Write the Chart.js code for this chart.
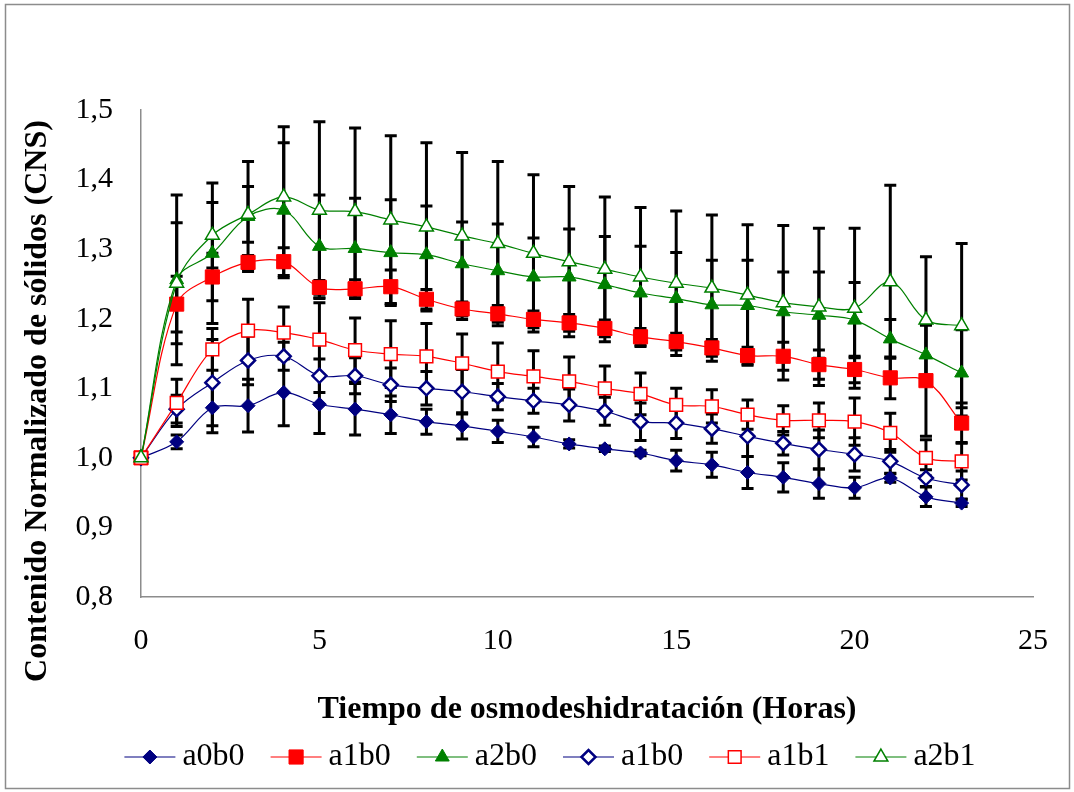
<!DOCTYPE html>
<html>
<head>
<meta charset="utf-8">
<script src="https://cdn.jsdelivr.net/npm/chart.js@4"></script>
<style>
  html, body { margin: 0; padding: 0; background: #fff; }
</style>
</head>
<body>
<canvas id="cnsChart" width="1074" height="792"></canvas>
<script>
// Horas de osmodeshidratación
const hours = [0, 1, 2, 3, 4, 5, 6, 7, 8, 9, 10, 11, 12, 13, 14, 15, 16, 17, 18, 19, 20, 21, 22, 23];

// Contenido normalizado de sólidos (media) y error por tratamiento
const a0b0 = [1.000, 1.023, 1.072, 1.075, 1.094, 1.077, 1.070, 1.062, 1.052, 1.046, 1.038, 1.030, 1.020, 1.013, 1.007, 0.996, 0.990, 0.979, 0.972, 0.963, 0.957, 0.971, 0.944, 0.935];
const a0b0Err = [0, 0.010, 0.036, 0.038, 0.048, 0.042, 0.037, 0.027, 0.018, 0.019, 0.016, 0.014, 0.006, 0.004, 0.004, 0.015, 0.018, 0.023, 0.021, 0.021, 0.015, 0.006, 0.014, 0.005];

const a1b0 = [1.000, 1.221, 1.260, 1.281, 1.282, 1.245, 1.243, 1.246, 1.228, 1.214, 1.207, 1.199, 1.194, 1.186, 1.174, 1.167, 1.158, 1.147, 1.146, 1.134, 1.127, 1.115, 1.111, 1.050];
const a1b0Err = [0, 0.040, 0.034, 0.010, 0.020, 0.010, 0.013, 0.024, 0.014, 0.010, 0.012, 0.012, 0.012, 0.012, 0.012, 0.012, 0.012, 0.012, 0.020, 0.021, 0.019, 0.030, 0.080, 0.029];

const a2b0 = [1.000, 1.256, 1.294, 1.347, 1.356, 1.304, 1.301, 1.295, 1.292, 1.279, 1.269, 1.260, 1.260, 1.249, 1.237, 1.229, 1.220, 1.219, 1.210, 1.205, 1.198, 1.171, 1.148, 1.122];
const a2b0Err = [0, 0.122, 0.101, 0.079, 0.097, 0.074, 0.072, 0.076, 0.070, 0.060, 0.067, 0.056, 0.069, 0.069, 0.067, 0.066, 0.064, 0.065, 0.057, 0.062, 0.054, 0.028, 0.043, 0.062];

const a0b1 = [1.000, 1.070, 1.108, 1.140, 1.146, 1.118, 1.118, 1.105, 1.100, 1.095, 1.088, 1.082, 1.076, 1.067, 1.052, 1.050, 1.042, 1.031, 1.021, 1.012, 1.005, 0.995, 0.971, 0.961];
const a0b1Err = [0, 0.020, 0.062, 0.035, 0.020, 0.024, 0.026, 0.024, 0.024, 0.032, 0.019, 0.018, 0.023, 0.020, 0.027, 0.022, 0.021, 0.029, 0.017, 0.028, 0.024, 0.017, 0.012, 0.020];

const a1b1 = [1.000, 1.079, 1.156, 1.183, 1.180, 1.170, 1.155, 1.149, 1.146, 1.136, 1.124, 1.117, 1.110, 1.100, 1.092, 1.076, 1.074, 1.062, 1.054, 1.054, 1.052, 1.036, 1.000, 0.995];
const a1b1Err = [0, 0.034, 0.030, 0.045, 0.037, 0.053, 0.046, 0.048, 0.047, 0.042, 0.041, 0.037, 0.035, 0.032, 0.030, 0.024, 0.024, 0.021, 0.021, 0.025, 0.034, 0.028, 0.026, 0.027];

const a2b1 = [1.000, 1.251, 1.320, 1.350, 1.375, 1.356, 1.354, 1.342, 1.332, 1.319, 1.308, 1.294, 1.282, 1.271, 1.260, 1.251, 1.244, 1.234, 1.223, 1.217, 1.215, 1.253, 1.198, 1.190];
const a2b1Err = [0, 0.087, 0.047, 0.040, 0.101, 0.127, 0.120, 0.121, 0.121, 0.120, 0.118, 0.113, 0.108, 0.104, 0.100, 0.104, 0.105, 0.101, 0.111, 0.113, 0.115, 0.139, 0.091, 0.118];

// el gráfico original repite la etiqueta "a1b0" en la cuarta serie
const seriesLabels = ['a0b0', 'a1b0', 'a2b0', 'a1b0', 'a1b1', 'a2b1'];

const xTitle = 'Tiempo de osmodeshidratación (Horas)';
const yTitle = 'Contenido Normalizado de sólidos (CNS)';

const FONT = '"Liberation Serif", "Times New Roman", serif';

function toPoints(values) {
    return hours.map((h, i) => ({ x: h, y: values[i] }));
}

function makeSeries(idx, values, errors, color, style, radius, filled, bw) {
    return {
        label: seriesLabels[idx],
        data: toPoints(values),
        errors: errors,
        borderColor: color,
        borderWidth: 1.2,
        pointStyle: style,
        pointRadius: radius,
        pointHoverRadius: radius,
        pointBackgroundColor: filled ? color : '#ffffff',
        pointBorderColor: color,
        pointBorderWidth: bw,
        tension: 0.35,
        fill: false,
        clip: false,
        order: 5 - idx
    };
}

const datasets = [
    makeSeries(0, a0b0, a0b0Err, '#000080', 'rectRot', 7, true, 1),
    makeSeries(1, a1b0, a1b0Err, '#ff0000', 'rect', 10, true, 1),
    makeSeries(2, a2b0, a2b0Err, '#008000', 'triangle', 8, true, 1),
    makeSeries(3, a0b1, a0b1Err, '#000080', 'rectRot', 7, false, 2.5),
    makeSeries(4, a1b1, a1b1Err, '#ff0000', 'rect', 9, false, 1.5),
    makeSeries(5, a2b1, a2b1Err, '#008000', 'triangle', 8, false, 1.5)
];

// fondo blanco y marco gris del gráfico
const frame = {
    id: 'frame',
    beforeDraw(chart) {
        const ctx = chart.ctx;
        ctx.save();
        ctx.fillStyle = '#ffffff';
        ctx.fillRect(0, 0, chart.width, chart.height);
        ctx.strokeStyle = '#8c8c8c';
        ctx.lineWidth = 1.5;
        ctx.strokeRect(5.5, 4.5, 1064, 784);
        ctx.restore();
    }
};

// barras de error (desviación) en negro
const errorBars = {
    id: 'errorBars',
    beforeDatasetsDraw(chart) {
        const ctx = chart.ctx;
        const yScale = chart.scales.y;
        ctx.save();
        ctx.strokeStyle = '#000000';
        ctx.lineWidth = 3;
        chart.data.datasets.forEach((ds, di) => {
            const meta = chart.getDatasetMeta(di);
            meta.data.forEach((pt, i) => {
                const e = ds.errors[i];
                if (!e) return;
                const v = ds.data[i].y;
                const top = yScale.getPixelForValue(v + e);
                const bot = yScale.getPixelForValue(v - e);
                ctx.beginPath();
                ctx.moveTo(pt.x, top);
                ctx.lineTo(pt.x, bot);
                ctx.moveTo(pt.x - 6, top);
                ctx.lineTo(pt.x + 6, top);
                ctx.moveTo(pt.x - 6, bot);
                ctx.lineTo(pt.x + 6, bot);
                ctx.stroke();
            });
        });
        ctx.restore();
    }
};

// título del eje Y, centrado como en Excel
const yAxisTitle = {
    id: 'yAxisTitle',
    afterDraw(chart) {
        const ctx = chart.ctx;
        ctx.save();
        ctx.translate(38, 401);
        ctx.rotate(-Math.PI / 2);
        ctx.font = 'bold 32px ' + FONT;
        ctx.fillStyle = '#000000';
        ctx.textAlign = 'center';
        ctx.textBaseline = 'middle';
        ctx.fillText(yTitle, 0, 0);
        ctx.restore();
    }
};

// leyenda en una fila: línea + marcador + texto
const legendRow = {
    id: 'legendRow',
    afterDraw(chart) {
        const ctx = chart.ctx;
        const lineLen = 51, gap = 7, spacing = 26, cy = 757;
        ctx.save();
        ctx.font = '32px ' + FONT;
        const widths = chart.data.datasets.map(ds => lineLen + gap + ctx.measureText(ds.label).width);
        const total = widths.reduce((a, b) => a + b, 0) + spacing * (widths.length - 1);
        let x = 550 - total / 2;
        chart.data.datasets.forEach((ds, i) => {
            ctx.strokeStyle = ds.borderColor;
            ctx.lineWidth = 1.2;
            ctx.beginPath();
            ctx.moveTo(x, cy);
            ctx.lineTo(x + lineLen, cy);
            ctx.stroke();
            ctx.fillStyle = ds.pointBackgroundColor;
            ctx.strokeStyle = ds.pointBorderColor;
            ctx.lineWidth = ds.pointBorderWidth;
            Chart.helpers.drawPoint(ctx, {
                pointStyle: ds.pointStyle,
                radius: ds.pointRadius,
                borderWidth: ds.pointBorderWidth,
                rotation: 0
            }, x + lineLen / 2, cy);
            ctx.fillStyle = '#000000';
            ctx.textAlign = 'left';
            ctx.textBaseline = 'middle';
            ctx.fillText(ds.label, x + lineLen + gap, cy);
            x += widths[i] + spacing;
        });
        ctx.restore();
    }
};

new Chart(document.getElementById('cnsChart'), {
    type: 'line',
    data: { datasets: datasets },
    options: {
        responsive: false,
        animation: false,
        events: [],
        layout: { padding: { top: 110, right: 30, bottom: 63, left: 0 } },
        plugins: {
            legend: { display: false },
            tooltip: { enabled: false }
        },
        scales: {
            x: {
                type: 'linear',
                min: 0,
                max: 25,
                grid: { display: false, drawTicks: false },
                border: { display: true, color: '#8c8c8c', width: 1.5 },
                ticks: {
                    stepSize: 5,
                    padding: 26,
                    color: '#000000',
                    font: { family: FONT, size: 30 },
                    maxRotation: 0
                },
                title: {
                    display: true,
                    text: xTitle,
                    color: '#000000',
                    font: { family: FONT, size: 32, weight: 'bold' },
                    padding: { top: 0, bottom: 0 }
                },
                afterFit(scale) { scale.height = 132; }
            },
            y: {
                min: 0.8,
                max: 1.5,
                grid: { display: false, drawTicks: false },
                border: { display: true, color: '#8c8c8c', width: 1.5 },
                ticks: {
                    stepSize: 0.1,
                    padding: 28,
                    color: '#000000',
                    font: { family: FONT, size: 30 },
                    callback: v => v.toFixed(1).replace('.', ',')
                },
                afterFit(scale) { scale.width = 141; }
            }
        }
    },
    plugins: [frame, errorBars, yAxisTitle, legendRow]
});
</script>
</body>
</html>
